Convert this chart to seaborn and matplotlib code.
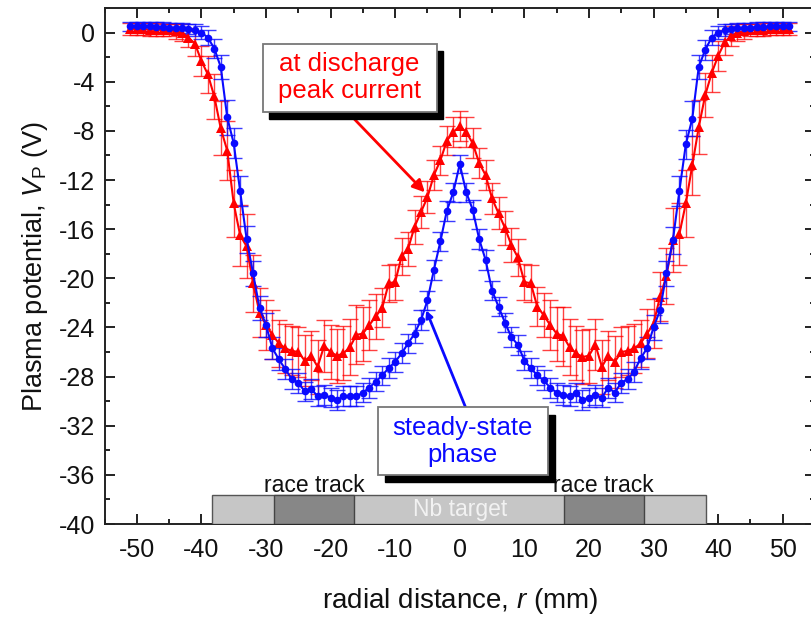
import numpy as np
import pandas as pd
import matplotlib
matplotlib.use("Agg")
import matplotlib.pyplot as plt
import seaborn as sns
from matplotlib.patches import Rectangle
from matplotlib.ticker import MultipleLocator

# ---------------- data ----------------
r_mm = list(range(-51, 52))

vp_steady = [0.5, 0.5, 0.5, 0.5, 0.45, 0.45, 0.4, 0.4, 0.35, 0.3,
             0.2, 0.0, -0.4, -1.3, -2.8, -6.9, -9.0, -12.9, -16.8, -19.6,
             -22.4, -23.8, -25.7, -26.6, -27.4, -28.2, -28.5, -29.2, -29.0, -29.6,
             -29.5, -29.7, -29.9, -29.6, -29.6, -29.6, -29.3, -28.9, -28.4, -27.9,
             -27.3, -26.8, -26.1, -25.3, -24.5, -23.4, -21.8, -19.3, -17.0, -14.5,
             -13.0, -10.7, -13.0, -14.4, -16.8, -18.5, -21.0, -22.3, -23.6, -24.8,
             -25.4, -26.7, -27.3, -27.9, -28.3, -28.9, -29.3, -29.5, -29.6, -29.3,
             -29.9, -29.7, -29.5, -29.7, -28.9, -29.3, -28.5, -28.2, -27.6, -26.5,
             -25.7, -24.0, -22.6, -19.6, -16.9, -12.9, -9.1, -7.0, -2.8, -1.4,
             -0.4, 0.0, 0.2, 0.3, 0.35, 0.4, 0.4, 0.45, 0.45, 0.5,
             0.5, 0.5, 0.5]
err_steady = [0.4, 0.4, 0.4, 0.4, 0.4, 0.4, 0.4, 0.4, 0.4, 0.4,
              0.5, 0.5, 0.6, 0.8, 1.0, 1.4, 1.2, 1.2, 1.1, 1.0,
              1.0, 1.0, 0.9, 0.9, 0.8, 0.8, 0.8, 0.8, 0.8, 0.8,
              0.8, 0.8, 0.8, 0.8, 0.8, 0.8, 0.8, 0.8, 0.8, 0.8,
              0.8, 0.8, 0.8, 0.8, 0.8, 0.8, 0.8, 0.8, 0.8, 0.8,
              0.8, 0.7, 0.8, 0.8, 0.8, 0.8, 0.8, 0.8, 0.8, 0.8,
              0.8, 0.8, 0.8, 0.8, 0.8, 0.8, 0.8, 0.8, 0.8, 0.8,
              0.8, 0.8, 0.8, 0.8, 0.8, 0.8, 0.8, 0.8, 0.8, 0.9,
              0.9, 1.0, 1.0, 1.0, 1.1, 1.2, 1.2, 1.4, 1.0, 0.8,
              0.6, 0.5, 0.5, 0.4, 0.4, 0.4, 0.4, 0.4, 0.4, 0.4,
              0.4, 0.4, 0.4]

vp_peak = [0.3, 0.3, 0.3, 0.25, 0.25, 0.2, 0.2, 0.1, 0.0, -0.4,
           -0.9, -2.3, -3.4, -5.2, -7.8, -9.6, -13.9, -16.5, -17.4, -20.4,
           -22.8, -23.8, -24.6, -25.3, -25.7, -25.9, -26.0, -26.7, -26.3, -27.2,
           -25.5, -26.0, -26.3, -26.1, -25.6, -24.6, -24.5, -23.8, -23.1, -22.4,
           -20.4, -20.3, -18.2, -17.6, -15.8, -14.6, -13.4, -11.6, -10.4, -8.8,
           -8.1, -7.6, -8.1, -9.0, -10.6, -11.6, -13.5, -14.7, -15.9, -17.3,
           -18.3, -20.3, -20.4, -22.3, -23.0, -23.8, -24.5, -24.7, -25.6, -26.1,
           -26.4, -26.3, -25.4, -27.2, -26.3, -26.8, -26.0, -25.9, -25.7, -25.3,
           -24.5, -23.7, -21.5, -19.8, -16.9, -16.4, -13.9, -10.8, -7.7, -5.1,
           -3.3, -1.9, -0.8, -0.3, 0.0, 0.1, 0.2, 0.2, 0.25, 0.3,
           0.3, 0.3, 0.3]
err_peak = [0.5, 0.5, 0.5, 0.5, 0.5, 0.5, 0.5, 0.6, 0.7, 0.8,
            1.0, 1.2, 1.5, 1.8, 2.2, 2.4, 2.7, 2.5, 2.6, 2.3,
            2.0, 2.0, 2.0, 1.9, 2.0, 2.0, 2.0, 2.1, 2.0, 2.2,
            2.1, 2.2, 2.2, 2.2, 2.3, 2.4, 2.2, 2.0, 1.8, 1.6,
            1.5, 1.5, 1.5, 1.4, 1.4, 1.3, 1.3, 1.2, 1.2, 1.2,
            1.2, 1.2, 1.2, 1.2, 1.2, 1.2, 1.3, 1.3, 1.4, 1.4,
            1.5, 1.5, 1.5, 1.6, 1.8, 2.0, 2.2, 2.4, 2.3, 2.2,
            2.2, 2.2, 2.1, 2.2, 2.0, 2.1, 2.0, 2.0, 2.0, 1.9,
            2.0, 2.0, 2.0, 2.3, 2.6, 2.5, 2.7, 2.4, 2.2, 1.8,
            1.5, 1.2, 1.0, 0.8, 0.7, 0.6, 0.5, 0.5, 0.5, 0.5,
            0.5, 0.5, 0.5]

x_ticks = [-50, -40, -30, -20, -10, 0, 10, 20, 30, 40, 50]
y_ticks = [0, -4, -8, -12, -16, -20, -24, -28, -32, -36, -40]

# target geometry (mm)
target_edges = [-38.3, 38.2]
race_tracks = [(-28.7, -16.4), (16.1, 28.5)]

# ---------------- plot ----------------
sns.set_theme(style="ticks")
plt.rcParams['font.family'] = ['Liberation Sans', 'DejaVu Sans']
plt.rcParams['mathtext.fontset'] = 'custom'
plt.rcParams['mathtext.rm'] = 'Liberation Sans'
plt.rcParams['mathtext.it'] = 'Liberation Sans:italic'

df = pd.DataFrame({
    "r": r_mm * 2,
    "vp": vp_peak + vp_steady,
    "err": err_peak + err_steady,
    "phase": ["peak"] * len(r_mm) + ["steady"] * len(r_mm),
})

fig = plt.figure(figsize=(8.12, 6.18), dpi=100)
ax = fig.add_axes([0.1287, 0.152, 0.875, 0.835])

RED = "#ff0000"
BLUE = "#0a0aff"

# error bars
ax.errorbar(r_mm, vp_peak, yerr=err_peak, fmt="none", ecolor=RED,
            elinewidth=1.0, capsize=6, capthick=1.0, alpha=0.75, zorder=2)
ax.errorbar(r_mm, vp_steady, yerr=err_steady, fmt="none", ecolor=BLUE,
            elinewidth=1.0, capsize=6, capthick=1.0, alpha=0.8, zorder=3)

sns.lineplot(data=df[df.phase == "peak"], x="r", y="vp", ax=ax, color=RED,
             marker="^", markersize=7, markeredgewidth=0, linewidth=1.5,
             legend=False, zorder=4)
sns.lineplot(data=df[df.phase == "steady"], x="r", y="vp", ax=ax, color=BLUE,
             marker="o", markersize=5.5, markeredgewidth=0, linewidth=1.5,
             legend=False, zorder=5)

ax.set_xlim(-55, 55)
ax.set_ylim(-40, 2)
ax.set_xticks(x_ticks)
ax.set_yticks(y_ticks)
ax.set_xticklabels([str(t) for t in x_ticks])
ax.set_yticklabels([str(t) for t in y_ticks])
ax.xaxis.set_minor_locator(MultipleLocator(5))
ax.yaxis.set_minor_locator(MultipleLocator(2))
ax.tick_params(which="both", direction="in", top=True, right=True,
               labelsize=18, colors="#111111", width=1.3)
ax.tick_params(which="major", length=7)
ax.tick_params(axis="x", which="major", pad=10)
ax.tick_params(axis="y", which="major", pad=7)
ax.tick_params(which="minor", length=3.5)
for s in ax.spines.values():
    s.set_linewidth(1.4)
    s.set_color("#222222")

ax.set_xlabel(r"radial distance, $\mathit{r}$ (mm)", fontsize=20, labelpad=17,
              color="#111111")
ax.set_ylabel(r"Plasma potential, $\mathit{V}_{\mathrm{P}}$ (V)", fontsize=19.5,
              labelpad=6, color="#111111")

# target bar
y0, h = -40, 2.4
ax.add_patch(Rectangle((target_edges[0], y0), target_edges[1] - target_edges[0], h,
                       facecolor="#c6c6c6", edgecolor="#555555", linewidth=1.0,
                       zorder=6))
for a, b in race_tracks:
    ax.add_patch(Rectangle((a, y0), b - a, h, facecolor="#878787",
                           edgecolor="#444444", linewidth=1.0, zorder=7))
    ax.text((a + b) / 2, -36.85, "race track", ha="center", va="center",
            fontsize=16.5, color="#111111", zorder=8)
ax.text(0, -38.8, "Nb target", ha="center", va="center", fontsize=16.5,
        color="#f2f2f2", zorder=8)

# annotation boxes with shadows
def shadow_box(x0, x1, ytop, ybot, dx, dy, z):
    ax.add_patch(Rectangle((x0 + dx, ybot - dy), x1 - x0, ytop - ybot,
                           facecolor="black", edgecolor="black", zorder=z))
    ax.add_patch(Rectangle((x0, ybot), x1 - x0, ytop - ybot,
                           facecolor="white", edgecolor="#777777",
                           linewidth=1.3, zorder=z + 1))

shadow_box(-30.5, -3.6, -0.9, -6.45, 1.0, 0.6, 9)
ax.text(-17.05, -3.65, "at discharge\npeak current", ha="center", va="center",
        fontsize=18.5, color=RED, linespacing=1.15, zorder=11)
ax.annotate("", xy=(-5.4, -13.0), xytext=(-16.3, -7.05),
            arrowprops=dict(arrowstyle="-|>", color=RED, lw=2.0,
                            mutation_scale=18, shrinkA=0, shrinkB=0),
            zorder=8)

shadow_box(-12.7, 13.6, -30.5, -36.0, 1.1, 0.6, 9)
ax.text(0.45, -33.25, "steady-state\nphase", ha="center", va="center",
        fontsize=18.5, color=BLUE, linespacing=1.15, zorder=11)
ax.annotate("", xy=(-5.2, -22.6), xytext=(0.9, -30.5),
            arrowprops=dict(arrowstyle="-|>", color=BLUE, lw=2.0,
                            mutation_scale=10, shrinkA=0, shrinkB=0),
            zorder=8)

fig.savefig("out.png", dpi=100)
